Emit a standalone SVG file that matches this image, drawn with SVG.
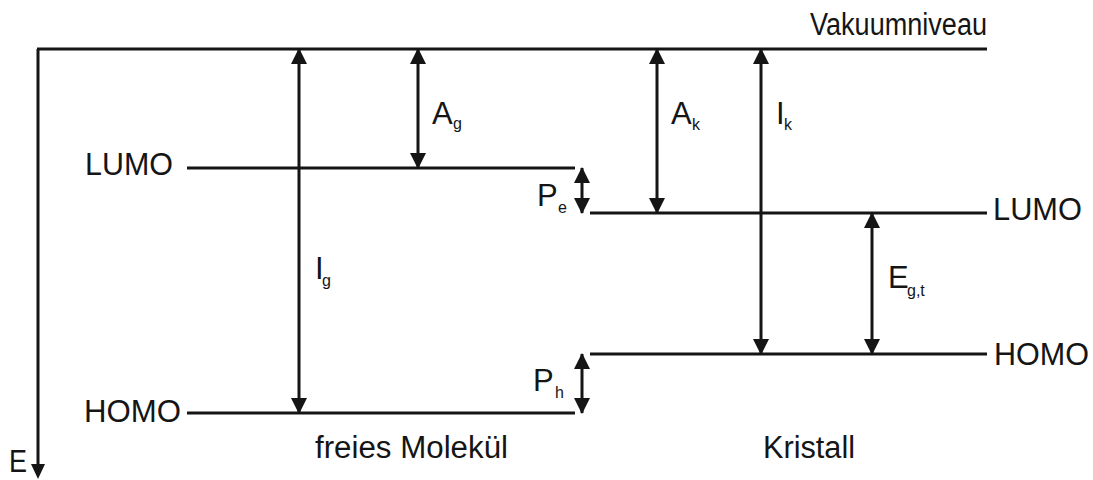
<svg xmlns="http://www.w3.org/2000/svg" width="1093" height="480" viewBox="0 0 1093 480">
<style>
.ln{stroke:#151515;stroke-width:3;fill:none}
.ar{stroke:#151515;stroke-width:3;fill:none;marker-start:url(#ah);marker-end:url(#ah)}
.t{font-family:"Liberation Sans",Arial,sans-serif;font-size:31px;fill:#151515}
.s{font-family:"Liberation Sans",Arial,sans-serif;font-size:16px;fill:#151515}
</style>
<defs>
<marker id="ah" viewBox="0 0 16 16" markerWidth="16" markerHeight="16" refX="15" refY="8" orient="auto-start-reverse" markerUnits="userSpaceOnUse">
<path d="M0,0 L16,8 L0,16 z" fill="#151515"/>
</marker>
</defs>
<rect width="1093" height="480" fill="#fff"/>
<g id="axis">
<line class="ln" x1="38" y1="49" x2="38" y2="466"/>
<path d="M31,464 L45,464 L38,479 z" fill="#151515"/>
<text class="t" x="9" y="472" font-size="25" textLength="18" lengthAdjust="spacingAndGlyphs">E</text>
</g>
<g id="vacuum">
<line class="ln" x1="37" y1="49" x2="987" y2="49"/>
<text class="t" x="810" y="35" textLength="177" lengthAdjust="spacingAndGlyphs">Vakuumniveau</text>
</g>
<g id="lumo-mol">
<line class="ln" x1="187" y1="168" x2="575" y2="168"/>
<text class="t" x="85" y="175" textLength="88" lengthAdjust="spacingAndGlyphs">LUMO</text>
</g>
<g id="homo-mol">
<line class="ln" x1="187" y1="413" x2="575" y2="413"/>
<text class="t" x="84" y="422" textLength="97" lengthAdjust="spacingAndGlyphs">HOMO</text>
</g>
<g id="lumo-kris">
<line class="ln" x1="590" y1="213" x2="987" y2="213"/>
<text class="t" x="993" y="220" textLength="89" lengthAdjust="spacingAndGlyphs">LUMO</text>
</g>
<g id="homo-kris">
<line class="ln" x1="590" y1="354" x2="987" y2="354"/>
<text class="t" x="994" y="365" textLength="95" lengthAdjust="spacingAndGlyphs">HOMO</text>
</g>
<g id="label-mol">
<text class="t" x="315" y="458" textLength="193" lengthAdjust="spacingAndGlyphs">freies Molekül</text>
</g>
<g id="label-kris">
<text class="t" x="763" y="458" textLength="92" lengthAdjust="spacingAndGlyphs">Kristall</text>
</g>
<g id="connectors">
<line class="ar" x1="299" y1="49" x2="299" y2="413"/>
<line class="ar" x1="418" y1="49" x2="418" y2="168"/>
<line class="ar" x1="582" y1="168" x2="582" y2="213"/>
<line class="ar" x1="582" y1="354" x2="582" y2="413"/>
<line class="ar" x1="657" y1="49" x2="657" y2="213"/>
<line class="ar" x1="761" y1="49" x2="761" y2="354"/>
<line class="ar" x1="872" y1="213" x2="872" y2="354"/>
</g>
<g id="arrow-labels">
<text class="t" x="315" y="279">I</text><text class="s" x="322" y="286">g</text>
<text class="t" x="432" y="124">A</text><text class="s" x="453" y="129">g</text>
<text class="t" x="537" y="206">P</text><text class="s" x="558" y="213" font-size="15">e</text>
<text class="t" x="533" y="391">P</text><text class="s" x="555" y="398" font-size="15">h</text>
<text class="t" x="671" y="124">A</text><text class="s" x="692" y="130" font-size="15">k</text>
<text class="t" x="776" y="124">I</text><text class="s" x="784" y="130" font-size="15">k</text>
<text class="t" x="888" y="288">E</text><text class="s" x="907" y="296">g,t</text>
</g>
</svg>
